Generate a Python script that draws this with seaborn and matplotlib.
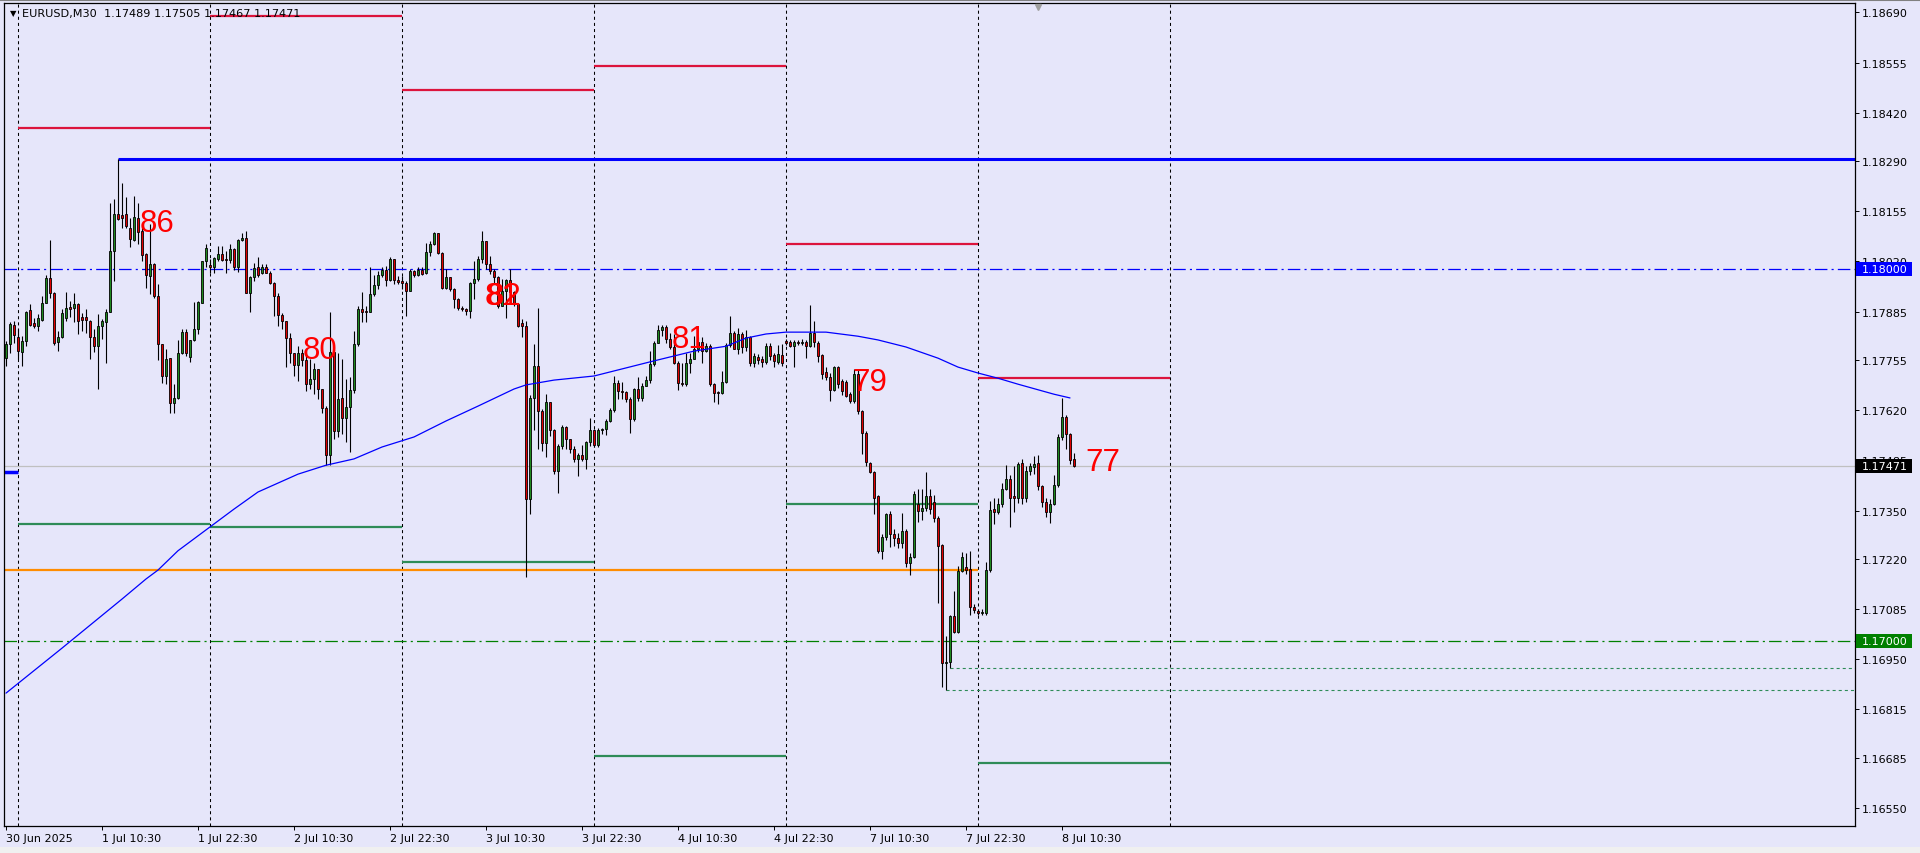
import numpy as np
import pandas as pd
import matplotlib
matplotlib.use('Agg')
import matplotlib.pyplot as plt
import matplotlib.transforms as mtransforms
from matplotlib.patches import Rectangle
from matplotlib.lines import Line2D
import seaborn as sns

# prices are stored in points (0.00001) above 1.17000
BASE = 1.17000
PT = 0.00001

opens = [761, 797, 848, 818, 777, 806, 889, 854, 847, 863, 909, 975,
         936, 804, 818, 869, 897, 894, 907, 872, 872, 861, 818, 793,
         847, 857, 884, 1047, 1147, 1144, 1147, 1111, 1078, 1138, 1102, 1039,
         981, 1013, 927, 797, 712, 761, 640, 654, 773, 830, 764, 809,
         838, 909, 1020, 1010, 1004, 1026, 1041, 1026, 1023, 1053, 1004, 1077,
         1084, 936, 979, 1004, 990, 1004, 990, 963, 927, 877, 860, 815,
         775, 741, 775, 755, 690, 703, 730, 676, 627, 499, 777, 565,
         654, 598, 628, 674, 797, 893, 888, 883, 932, 956, 983, 997,
         970, 1026, 970, 968, 963, 941, 995, 983, 998, 990, 1046, 1067,
         1096, 1044, 950, 977, 946, 919, 896, 892, 887, 961, 973, 1026,
         1076, 1013, 995, 977, 901, 941, 970, 937, 905, 854, 847, 381,
         654, 739, 618, 533, 642, 567, 457, 524, 576, 542, 515, 488,
         499, 488, 535, 567, 526, 567, 569, 591, 621, 694, 672, 669,
         650, 596, 678, 654, 685, 702, 744, 802, 835, 843, 811, 789,
         748, 694, 690, 748, 759, 784, 804, 780, 793, 690, 669, 665,
         697, 795, 828, 785, 825, 789, 816, 747, 762, 758, 751, 792,
         768, 751, 768, 807, 803, 794, 803, 802, 804, 794, 828, 800,
         768, 722, 708, 675, 735, 699, 697, 663, 644, 717, 619, 558,
         478, 454, 388, 242, 278, 340, 287, 275, 264, 296, 210, 226,
         367, 349, 358, 390, 374, 331, 257, -60, -57, 67, 24, 188,
         197, 194, 92, 79, 74, 74, 191, 354, 347, 367, 408, 435,
         388, 384, 477, 383, 457, 466, 478, 415, 374, 347, 367, 419,
         549, 601, 556, 489]

highs = [806, 856, 860, 838, 820, 887, 907, 869, 878, 927, 983, 1078,
         938, 833, 891, 938, 914, 936, 909, 882, 893, 863, 838, 878,
         866, 891, 1178, 1189, 1297, 1232, 1194, 1138, 1195, 1178, 1120, 1042,
         1120, 1017, 959, 797, 784, 761, 690, 809, 838, 838, 809, 911,
         914, 1022, 1066, 1026, 1033, 1062, 1062, 1049, 1066, 1055, 1080, 1096,
         1102, 981, 1017, 1031, 1013, 1013, 995, 965, 935, 881, 860, 829,
         775, 793, 784, 784, 757, 748, 730, 676, 631, 883, 779, 775,
         757, 703, 708, 833, 900, 938, 900, 1004, 983, 995, 1004, 1008,
         1031, 1026, 981, 981, 968, 999, 997, 1004, 1004, 1071, 1076, 1100,
         1096, 1046, 1001, 977, 950, 921, 899, 896, 964, 1022, 1035, 1101,
         1076, 1034, 1001, 982, 973, 973, 1001, 941, 905, 865, 860, 660,
         798, 894, 623, 663, 642, 569, 529, 580, 578, 542, 524, 506,
         526, 537, 598, 569, 571, 571, 596, 625, 712, 700, 696, 672,
         655, 681, 708, 694, 712, 780, 807, 849, 849, 849, 829, 825,
         752, 748, 775, 775, 820, 816, 816, 800, 797, 694, 672, 726,
         800, 874, 833, 840, 830, 835, 820, 775, 770, 765, 800, 800,
         775, 795, 798, 812, 808, 809, 810, 812, 810, 903, 861, 807,
         771, 735, 720, 740, 740, 705, 700, 670, 731, 731, 620, 565,
         480, 456, 392, 288, 344, 348, 300, 290, 343, 300, 235, 403,
         408, 408, 454, 408, 393, 336, 260, 13, 70, 134, 200, 239,
         237, 242, 100, 85, 84, 212, 376, 385, 385, 425, 472, 447,
         470, 482, 488, 470, 478, 497, 500, 420, 383, 380, 446, 556,
         654, 607, 560, 505]

lows = [739, 775, 802, 757, 739, 793, 847, 842, 833, 860, 908, 921,
        795, 779, 815, 860, 871, 858, 826, 833, 827, 759, 777, 676,
        811, 748, 883, 968, 1132, 1111, 1111, 1060, 1075, 1066, 1022, 950,
        932, 923, 755, 694, 690, 613, 613, 651, 770, 766, 751, 806,
        824, 908, 1004, 990, 988, 1022, 1022, 990, 1017, 997, 992, 1075,
        935, 884, 968, 977, 986, 988, 959, 874, 847, 838, 735, 748,
        712, 699, 739, 672, 676, 663, 649, 613, 473, 473, 543, 547,
        556, 534, 507, 665, 793, 856, 856, 883, 927, 945, 977, 954,
        968, 959, 959, 945, 874, 941, 977, 981, 983, 986, 1035, 1064,
        1040, 946, 947, 941, 894, 890, 887, 876, 869, 919, 968, 1017,
        1000, 986, 959, 896, 899, 869, 923, 901, 845, 816, 172, 340,
        567, 515, 511, 493, 551, 448, 398, 515, 515, 506, 481, 443,
        484, 463, 524, 520, 522, 555, 553, 587, 616, 650, 650, 642,
        560, 590, 645, 645, 684, 694, 740, 800, 820, 800, 784, 745,
        675, 686, 686, 721, 757, 777, 748, 777, 686, 642, 636, 663,
        694, 789, 784, 770, 775, 780, 740, 735, 745, 735, 745, 755,
        735, 745, 740, 795, 790, 737, 795, 796, 760, 790, 789, 749,
        704, 700, 646, 672, 680, 660, 655, 640, 640, 610, 502, 470,
        451, 340, 236, 221, 270, 253, 254, 250, 250, 197, 176, 223,
        318, 326, 349, 340, 320, 101, -125, -133, -74, 22, 20, 185,
        179, 70, 74, 69, 70, 70, 185, 314, 340, 360, 405, 307,
        345, 370, 368, 372, 445, 449, 405, 360, 332, 316, 364, 414,
        540, 515, 475, 467]

closes = [797, 851, 822, 779, 806, 884, 849, 847, 867, 909, 975, 936,
          802, 818, 882, 896, 893, 907, 860, 863, 863, 818, 793, 847,
          860, 884, 1047, 1147, 1134, 1138, 1116, 1080, 1141, 1100, 1037, 983,
          1013, 927, 797, 712, 759, 640, 654, 773, 830, 773, 809, 838,
          911, 1020, 1055, 1004, 1029, 1041, 1024, 1023, 1053, 1004, 1077, 1084,
          936, 979, 1002, 983, 1004, 990, 963, 926, 875, 860, 813, 775,
          741, 775, 755, 690, 703, 730, 676, 627, 499, 777, 565, 651,
          598, 628, 674, 797, 893, 883, 883, 932, 956, 983, 997, 970,
          1026, 970, 965, 963, 941, 995, 983, 996, 986, 1046, 1067, 1096,
          1044, 950, 977, 946, 919, 896, 892, 887, 961, 973, 1026, 1076,
          1013, 995, 977, 901, 941, 970, 937, 905, 847, 847, 381, 654,
          739, 618, 533, 642, 567, 457, 524, 576, 542, 515, 488, 499,
          488, 535, 567, 526, 567, 569, 591, 621, 694, 672, 669, 650,
          596, 678, 654, 685, 702, 744, 802, 835, 843, 811, 789, 748,
          694, 690, 748, 759, 784, 804, 780, 793, 690, 666, 665, 697,
          795, 828, 785, 825, 789, 816, 747, 765, 756, 751, 794, 767,
          753, 771, 747, 801, 794, 804, 801, 804, 794, 828, 803, 767,
          717, 708, 675, 735, 690, 672, 659, 644, 717, 619, 558, 480,
          454, 385, 242, 278, 340, 287, 275, 264, 296, 210, 226, 394,
          349, 358, 390, 354, 331, 255, -59, -57, 67, 24, 188, 224,
          191, 92, 83, 74, 78, 191, 352, 347, 367, 408, 435, 383,
          384, 475, 383, 457, 470, 474, 415, 374, 347, 367, 419, 549,
          601, 556, 487, 471]

# moving average read at some bars
ma_bar = [0, 14, 29, 35, 38, 43, 51, 57, 63, 73, 80, 87, 94, 102, 110, 118, 127,
          130, 137, 147, 161, 172, 180, 185, 190, 195, 201, 205, 213, 218,
          225, 233, 238, 243, 248, 253, 262, 266]
ma_pts = [-141, -20, 112, 166, 190, 242, 306, 354, 400, 448, 472, 489, 521, 548,
          591, 631, 677, 688, 701, 712, 750, 779, 792, 814, 825, 830, 830,
          830, 819, 809, 790, 760, 736, 720, 706, 690, 663, 653]

# time axis
time_labels = ['30 Jun 2025', '1 Jul 10:30', '1 Jul 22:30', '2 Jul 10:30',
               '2 Jul 22:30', '3 Jul 10:30', '3 Jul 22:30', '4 Jul 10:30',
               '4 Jul 22:30', '7 Jul 10:30', '7 Jul 22:30', '8 Jul 10:30']
label_bars = [0, 24, 48, 72, 96, 120, 144, 168, 192, 216, 240, 264]
day_starts = [3, 51, 99, 147, 195, 243, 291]

# daily high / low levels
day_highs = [1.18380, 1.18680, 1.18482, 1.18545, 1.18067, 1.17706]
day_lows = [1.17314, 1.17306, 1.17212, 1.16690, 1.17368, 1.16671]

y_ticks = [1.18690, 1.18555, 1.18420, 1.18290, 1.18155, 1.18020, 1.17885,
           1.17755, 1.17620, 1.17485, 1.17350, 1.17220, 1.17085, 1.16950,
           1.16815, 1.16685, 1.16550]

level_high = 1.18296   # thick blue, from bar 28
level_high_bar = 28
round_up = 1.18000
round_down = 1.17000
orange_level = 1.17190
bid = 1.17471
low_dots = [(236, 1.16926), (235, 1.16867)]
left_mark = 1.17454

counts = [('86', 33.5, 1.18102), ('80', 74.25, 1.17760), ('81', 119.6, 1.17906),
          ('82', 120.25, 1.17906), ('81', 166.5, 1.17790), ('79', 211.5, 1.17674),
          ('77', 269.75, 1.17459)]

header = 'EURUSD,M30  1.17489 1.17505 1.17467 1.17471'

# ---------------------------------------------------------------
df = pd.DataFrame({'o': opens, 'h': highs, 'l': lows, 'c': closes})
df = df * PT + BASE
df['bar'] = np.arange(len(df))
df['up'] = df['c'] >= df['o']

sns.set_style('white')
BG = '#e6e6fa'
plt.rcParams['font.family'] = ['DejaVu Sans']
plt.rcParams['lines.scale_dashes'] = False

fig = plt.figure(figsize=(19.2, 8.54), dpi=100, facecolor=BG)
W, H = 1920, 854
ax = fig.add_axes([4 / W, 27 / H, 1851 / W, 823 / H])
ax.set_facecolor(BG)
ax.set_xlim(-0.5, 462.25)
ax.set_ylim(1.165016, 1.187153)

# period separators
for b in day_starts:
    ax.axvline(b, color='black', lw=0.75, ls=(0, (2.2, 2.2)), zorder=1)

# daily levels
for k in range(len(day_highs)):
    ax.hlines(day_highs[k], day_starts[k], day_starts[k + 1], color='#dc143c', lw=1.6, zorder=2)
    ax.hlines(day_lows[k], day_starts[k], day_starts[k + 1], color='#2e8b57', lw=1.6, zorder=2)

ax.axhline(bid, color='#c0c0c0', lw=0.9, zorder=1)
ax.axhline(round_up, color='#0000ff', lw=0.9, ls=(0, (9, 3, 1.5, 3)), zorder=2)
ax.axhline(round_down, color='#008000', lw=0.9, ls=(0, (9, 3, 1.5, 3)), zorder=2)
ax.hlines(orange_level, -0.5, day_starts[5], color='#ff8c00', lw=1.6, zorder=2)
ax.hlines(level_high, level_high_bar, 462.25, color='#0000ff', lw=2.2, zorder=2)
ax.hlines(left_mark, -0.5, 3, color='#0000ff', lw=2.5, zorder=2)
for b, p in low_dots:
    ax.hlines(p, b, 462.25, color='#2e8b57', lw=0.8, ls=(0, (2.2, 2.2)), zorder=2)

# candles
hi = np.maximum(df['h'], np.maximum(df['o'], df['c']))
lo = np.minimum(df['l'], np.minimum(df['o'], df['c']))
ax.vlines(df['bar'], lo, hi, color='black', lw=0.8, zorder=3)
body_lo = np.minimum(df['o'], df['c'])
body_h = np.maximum((df['c'] - df['o']).abs(), 0.000015)
cols = np.where(df['up'], '#1f8a1f', '#e00000')
ax.bar(df['bar'], body_h, bottom=body_lo, width=0.65, color=cols,
       edgecolor='black', linewidth=0.6, zorder=4)

# moving average
ma = pd.DataFrame({'bar': ma_bar, 'price': np.array(ma_pts) * PT + BASE})
sns.lineplot(data=ma, x='bar', y='price', ax=ax, color='#0000ff', lw=0.9, zorder=5)

# count labels
for txt, b, p in counts:
    ax.text(b, p, txt, color='#ff0000', fontsize=22.5, family=['Liberation Sans', 'DejaVu Sans'],
            ha='left', va='baseline', zorder=6)

# axes styling
for s in ax.spines.values():
    s.set_color('black')
    s.set_linewidth(0.9)
ax.set_xlabel('')
ax.set_ylabel('')
ax.yaxis.tick_right()
ax.set_yticks(y_ticks)
ax.set_yticklabels([f'{v:.5f}' for v in y_ticks])
ax.tick_params(axis='y', direction='out', length=3, width=0.7, pad=2,
               labelsize=8, colors='black', right=True, left=False)
ax.set_xticks(label_bars)
ax.set_xticklabels(time_labels, ha='left')
ax.tick_params(axis='x', direction='out', length=3, width=0.7, pad=2,
               labelsize=8, colors='black', bottom=True)

# price boxes on the right scale
tb = mtransforms.blended_transform_factory(ax.transAxes, ax.transData)
half = 7 / 37178
for p, fc in [(round_up, '#0000ff'), (bid, '#000000'), (round_down, '#008000')]:
    ax.add_patch(Rectangle((1.0006, p - half), 56 / 1851, 2 * half, transform=tb,
                           facecolor=fc, edgecolor='none', clip_on=False, zorder=10))
    ax.text(1.0 + 7 / 1851, p, f'{p:.5f}', transform=tb, color='white', fontsize=8,
            ha='left', va='center', clip_on=False, zorder=11)

# chart shift marker
ax.plot([258], [1.18705], marker='v', color='#a0a0a0', ms=5, zorder=7, clip_on=False)

# header
fig.text(10 / W, 1 - 14 / H, '\u25bc', fontsize=6, color='black', va='center', ha='left')
fig.text(22 / W, 1 - 14 / H, header, fontsize=8.1, color='black', va='center', ha='left')
fig.add_artist(Line2D([0, 1], [1 - 1 / H, 1 - 1 / H], transform=fig.transFigure,
                      color='#808080', lw=1.5))
fig.add_artist(Rectangle((0, 0), 1, 6 / H, transform=fig.transFigure,
                         facecolor='#f0f0f0', edgecolor='none'))

fig.savefig('out.png', dpi=100, facecolor=BG)
